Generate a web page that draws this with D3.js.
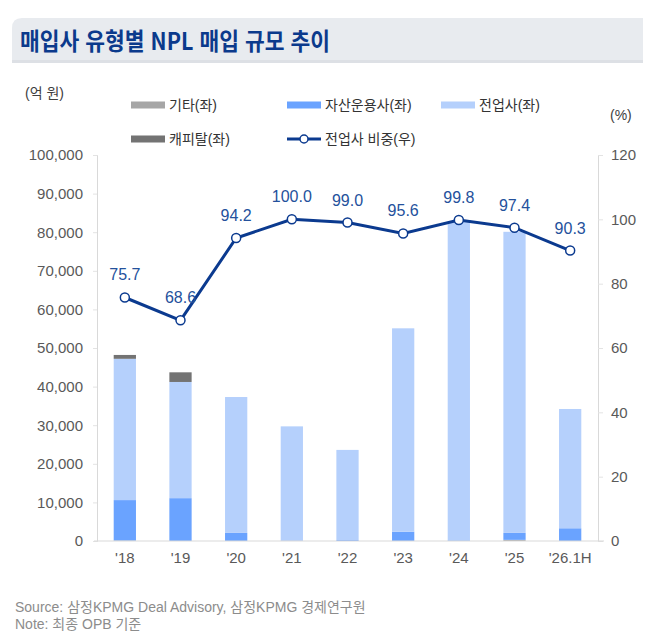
<!DOCTYPE html>
<html lang="ko">
<head>
<meta charset="utf-8" />
<title>매입사 유형별 NPL 매입 규모 추이</title>
<script src="https://cdn.jsdelivr.net/npm/d3@7/dist/d3.min.js"></script>
<style>
  body { margin: 0; background: #fff; }
  svg text { font-family: "Liberation Sans", "Noto Sans CJK KR", sans-serif; }
</style>
</head>
<body>
<div id="chart"></div>
<script>
// data (억 원, %)
var years = ["'18", "'19", "'20", "'21", "'22", "'23", "'24", "'25", "'26.1H"];
var assetMgr = [10500, 11100, 2100, 0, 240, 2400, 170, 1800, 3300];   // 자산운용사
var dedicated = [36600, 30100, 35200, 29700, 23360, 52700, 82530, 78000, 30900]; // 전업사
var capital = [1000, 2500, 0, 0, 0, 0, 0, 0, 0];   // 캐피탈
var others = [100, 0, 0, 0, 0, 0, 0, 300, 0];      // 기타
var share = [75.7, 68.6, 94.2, 100.0, 99.0, 95.6, 99.8, 97.4, 90.3]; // 전업사 비중
var leftTicks = [0, 10000, 20000, 30000, 40000, 50000, 60000, 70000, 80000, 90000, 100000];
var rightTicks = [0, 20, 40, 60, 80, 100, 120];

var width = 655, height = 642;
var plotL = 97, plotR = 598, plotT = 155, plotB = 541;

var svg = d3.select("#chart").append("svg")
  .attr("width", width)
  .attr("height", height);

// title banner
svg.append("path")
  .attr("d", "M12,62 L12,28 Q12,18 22,18 L643,18 L643,62 Z")
  .attr("fill", "#e8ebef");
svg.append("rect")
  .attr("x", 12).attr("y", 60).attr("width", 631).attr("height", 3)
  .attr("fill", "#dde0e5");
svg.append("text")
  .attr("x", 20).attr("y", 50)
  .attr("font-size", 24)
  .attr("font-weight", 700)
  .attr("fill", "#0b3a8c")
  .attr("textLength", 310)
  .attr("lengthAdjust", "spacingAndGlyphs")
  .style("font-family", "'Noto Sans CJK KR', sans-serif")
  .text("매입사 유형별 NPL 매입 규모 추이");

// scales
var x = d3.scaleBand().domain(years).range([plotL, plotR]).paddingInner(0.6).paddingOuter(0.3);
var y = d3.scaleLinear().domain([0, 100000]).range([plotB, plotT]);
var y2 = d3.scaleLinear().domain([0, 120]).range([plotB, plotT]);

// stacked bars
var rows = years.map(function(d, i) {
  return { year: d, asset: assetMgr[i], dedicated: dedicated[i], capital: capital[i], others: others[i] };
});
var keys = ["others", "asset", "dedicated", "capital"];
var colors = { others: "#a6a6a6", asset: "#6aa3ff", dedicated: "#b5d0fc", capital: "#737373" };
var stack = d3.stack().keys(keys)(rows);

svg.append("g").selectAll("g")
  .data(stack)
  .join("g")
  .attr("fill", function(d) { return colors[d.key]; })
  .selectAll("rect")
  .data(function(d) { return d; })
  .join("rect")
  .attr("x", function(d) { return x(d.data.year); })
  .attr("width", x.bandwidth())
  .attr("y", function(d) { return y(d[1]); })
  .attr("height", function(d) { return y(d[0]) - y(d[1]); });

// axes
var yAxis = d3.axisLeft(y).tickValues(leftTicks).tickSize(4).tickPadding(10)
  .tickFormat(d3.format(","));
var gy = svg.append("g").attr("transform", "translate(" + plotL + ",0)").call(yAxis);

var y2Axis = d3.axisRight(y2).tickValues(rightTicks).tickSize(5).tickPadding(8);
var gy2 = svg.append("g").attr("transform", "translate(" + plotR + ",0)").call(y2Axis);

var xAxis = d3.axisBottom(x).tickSize(0).tickPadding(11);
var gx = svg.append("g").attr("transform", "translate(0," + plotB + ")").call(xAxis);
gx.select(".domain").attr("d", "M" + (plotL - 3) + ",0H" + (plotR + 6));

[gy, gy2, gx].forEach(function(g) {
  g.selectAll(".domain").attr("stroke", "#d9d9d9");
  g.selectAll(".tick line").attr("stroke", "#e3e3e3");
  g.selectAll(".tick text")
    .attr("fill", "#595959")
    .attr("font-size", 15)
    .style("font-family", "'Liberation Sans', sans-serif");
});

// line
var line = d3.line()
  .x(function(d, i) { return x(years[i]) + x.bandwidth() / 2; })
  .y(function(d) { return y2(d); });

svg.append("path")
  .datum(share)
  .attr("d", line)
  .attr("fill", "none")
  .attr("stroke", "#0b3a8f")
  .attr("stroke-width", 3);

svg.append("g").selectAll("circle")
  .data(share)
  .join("circle")
  .attr("cx", function(d, i) { return x(years[i]) + x.bandwidth() / 2; })
  .attr("cy", function(d) { return y2(d); })
  .attr("r", 4.5)
  .attr("fill", "#fff")
  .attr("stroke", "#0b3a8f")
  .attr("stroke-width", 1.5);

svg.append("g").selectAll("text")
  .data(share)
  .join("text")
  .attr("x", function(d, i) { return x(years[i]) + x.bandwidth() / 2; })
  .attr("y", function(d) { return y2(d) - 17; })
  .attr("text-anchor", "middle")
  .attr("font-size", 16)
  .attr("fill", "#24519c")
  .text(function(d) { return d.toFixed(1); });

// unit labels
svg.append("text").attr("x", 25).attr("y", 98).attr("font-size", 14).attr("fill", "#404040").text("(억 원)");
svg.append("text").attr("x", 610).attr("y", 120).attr("font-size", 14).attr("fill", "#404040").text("(%)");

// legend
var legend = [
  { label: "기타(좌)", color: colors.others, x: 131, y: 105 },
  { label: "자산운용사(좌)", color: colors.asset, x: 287, y: 105 },
  { label: "전업사(좌)", color: colors.dedicated, x: 441, y: 105 },
  { label: "캐피탈(좌)", color: colors.capital, x: 131, y: 139 },
  { label: "전업사 비중(우)", color: null, x: 287, y: 139 }
];
var lg = svg.append("g").selectAll("g").data(legend).join("g")
  .attr("transform", function(d) { return "translate(" + d.x + "," + d.y + ")"; });
lg.filter(function(d) { return d.color; }).append("rect")
  .attr("x", 0).attr("y", -3.5).attr("width", 34).attr("height", 7)
  .attr("fill", function(d) { return d.color; });
var ll = lg.filter(function(d) { return !d.color; });
ll.append("line").attr("x1", 0).attr("x2", 34).attr("y1", 0).attr("y2", 0)
  .attr("stroke", "#0b3a8f").attr("stroke-width", 3);
ll.append("circle").attr("cx", 17).attr("cy", 0).attr("r", 4)
  .attr("fill", "#fff").attr("stroke", "#0b3a8f").attr("stroke-width", 1.5);
lg.append("text").attr("x", 38).attr("y", 5)
  .attr("font-size", 14).attr("fill", "#333")
  .text(function(d) { return d.label; });

// footnote
svg.append("text").attr("x", 15).attr("y", 612).attr("font-size", 14).attr("fill", "#8c8c8c")
  .text("Source: 삼정KPMG Deal Advisory, 삼정KPMG 경제연구원");
svg.append("text").attr("x", 15).attr("y", 629).attr("font-size", 14).attr("fill", "#8c8c8c")
  .text("Note: 최종 OPB 기준");
</script>
</body>
</html>
